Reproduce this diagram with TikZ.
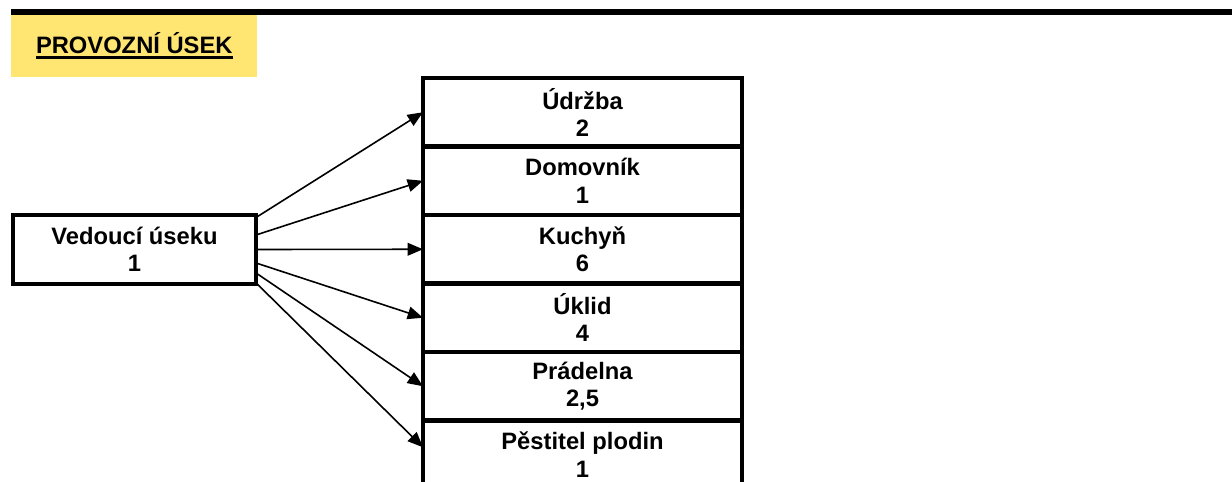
\documentclass[tikz,border=0pt]{standalone}
\usepackage{fontspec}
\setmainfont{Liberation Sans}
\usetikzlibrary{positioning,arrows.meta}
\definecolor{headyellow}{HTML}{FFE673}
\newcommand{\headrule}[1]{\setbox0\hbox{#1}\rlap{\rule[-3.6pt]{\wd0}{1.7pt}}\box0}

\begin{document}
\begin{tikzpicture}[x=0.75pt,y=-0.75pt,>={Triangle[length=11.5pt,width=9.5pt]},
		font=\bfseries\fontsize{17.8}{20.5}\selectfont,
		unit/.style={draw,line width=3.6pt,outer sep=0pt,inner sep=0pt,align=center,
			minimum width=239.25pt,minimum height=51.375pt}
	]
		\useasboundingbox (0,0) rectangle (1232,482);
		\clip (0,0) rectangle (1232,482);
		\node[fill=headyellow,anchor=north west,minimum width=184.5pt,minimum height=47.25pt] (head) at (11,14) {\headrule{PROVOZNÍ ÚSEK}};
		\draw[line width=4.5pt] (11,12) -- (1232,12);
		% sections
		\node[unit,anchor=north] (udrzba) at (582.5,78) {Údržba\\2};
		\node[unit,below=0pt of udrzba] (domovnik) {Domovník\\1};
		\node[unit,below=0pt of domovnik] (kuchyn) {Kuchyň\\6};
		\node[unit,below=0pt of kuchyn] (uklid) {Úklid\\4};
		\node[unit,below=0pt of uklid] (pradelna) {Prádelna\\2,5};
		\node[unit,below=0pt of pradelna] (pestitel) {Pěstitel plodin\\1};
		% head of the section
		\node[unit,minimum width=182.25pt,minimum height=51.75pt] (vedouci) at (134.5,249.5) {Vedoucí úseku\\1};
		\path[->,line width=1.2pt]
			([yshift=24pt]vedouci.east) edge (udrzba.west)
			([yshift=10.9pt]vedouci.east) edge (domovnik.west)
			(vedouci.east) edge (kuchyn.west)
			([yshift=-10.1pt]vedouci.east) edge (uklid.west)
			([yshift=-17.6pt]vedouci.east) edge (pradelna.west)
			([yshift=-25pt]vedouci.east) edge ([yshift=5.6pt]pestitel.west)
		;
	\end{tikzpicture}
\end{document}
